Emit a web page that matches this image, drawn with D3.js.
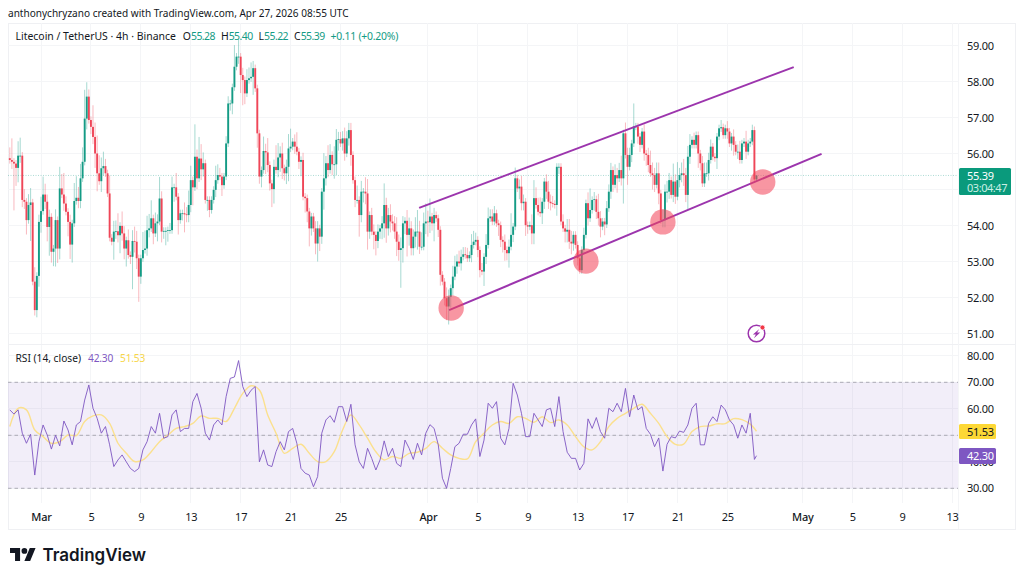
<!DOCTYPE html>
<html><head><meta charset="utf-8">
<script src="https://cdn.jsdelivr.net/npm/d3@7/dist/d3.min.js"></script>
<style>
html,body{margin:0;padding:0;background:#fff;overflow:hidden}
svg{display:block}
text{font-family:"Noto Sans",Roboto,sans-serif;fill:#131722}
</style></head><body><svg id="c" width="1024" height="581"></svg>
<script>
// ---------- data ----------
const closes = [
55.82,55.77,55.72,55.60,55.94,55.94,54.71,54.66,54.15,54.57,54.64,52.44,51.65,52.60,54.10,54.40,54.86,54.66,53.96,54.24,
53.27,53.36,54.15,53.36,55.03,54.86,54.61,54.38,54.10,53.47,54.06,54.68,54.77,54.68,55.31,55.77,56.97,57.58,56.93,56.74,
56.46,56.00,55.45,55.23,55.59,55.65,55.45,54.89,53.66,53.55,53.83,53.84,53.73,53.99,53.78,53.36,53.59,53.18,53.13,53.57,
53.55,53.09,52.58,53.09,53.32,53.36,53.87,53.92,54.20,53.78,54.06,54.11,54.75,53.83,53.85,53.85,53.87,53.87,55.06,55.06,
54.80,54.15,54.34,54.34,54.31,54.29,54.57,55.26,55.06,55.91,55.31,55.86,55.56,55.73,54.71,54.71,54.43,54.71,54.99,55.26,
55.40,55.36,55.12,55.36,56.28,57.39,57.39,57.84,58.41,58.69,58.69,58.18,58.04,57.67,58.04,58.09,58.13,58.37,57.81,56.56,55.36,
55.54,56.07,56.03,55.68,55.17,55.01,55.63,55.54,55.89,56.00,55.59,55.45,55.63,56.14,56.19,56.33,56.19,56.05,55.77,55.82,
54.80,54.76,54.39,53.92,54.25,53.92,53.50,53.92,53.69,54.94,55.31,55.73,55.54,55.96,55.70,55.70,56.38,56.40,56.28,56.42,
56.00,56.42,56.65,55.96,55.26,54.71,54.71,54.29,54.94,54.94,54.89,53.83,54.29,53.83,53.74,53.57,53.83,53.92,54.06,54.57,
53.92,54.29,54.11,54.06,53.83,53.55,53.32,53.37,54.06,54.13,53.74,53.92,53.37,53.69,53.83,53.83,53.41,53.41,54.06,54.11,
54.09,54.25,54.06,54.29,54.20,53.88,
52.63,52.44,51.98,51.75,52.02,52.26,52.58,52.86,53.00,52.95,53.13,53.20,53.18,53.09,53.18,53.46,53.55,53.60,53.32,52.76,
52.72,53.13,53.46,54.20,54.25,54.11,54.34,54.06,54.01,53.60,53.55,53.32,53.23,53.41,53.74,53.97,55.31,55.03,55.08,54.62,
54.66,54.01,53.97,54.01,53.78,54.76,54.57,54.38,54.34,54.66,55.22,54.94,54.66,54.62,54.60,54.57,55.63,55.63,54.11,53.92,
53.83,53.88,53.55,53.50,53.74,53.46,53.09,52.76,53.32,53.74,54.62,54.20,54.43,54.71,54.73,54.38,54.20,53.97,
54.11,54.03,54.48,54.94,55.54,55.13,55.40,55.31,55.54,55.31,56.56,55.96,55.63,55.96,56.28,56.75,56.75,56.47,56.24,56.61,
56.00,55.96,55.68,55.45,55.40,55.13,55.45,54.89,54.15,54.15,54.94,54.94,55.26,54.85,55.22,54.80,55.26,55.40,55.45,55.40,
54.85,55.91,56.24,56.38,56.24,56.51,56.00,55.73,55.17,55.45,55.45,55.82,56.19,55.91,55.87,56.47,56.70,56.73,56.51,56.70,
56.61,56.28,56.47,56.24,56.05,56.05,55.82,56.28,56.33,56.05,56.28,56.33,56.65,55.28,55.39];
const upperWick = [
.3,.6,.1,.1,.4,.5,.1,.3,.1,.3,.4,.1,.4,.1,.2,.4,.5,.3,.2,.2,.1,.1,.3,.1,.6,.4,.6,.2,.1,.2,.1,.5,.6,.3,.4,.4,.8,.4,.2,.1,.6,.4,.5,.5,.3,.4,.2,.1,.5,.1,.3,.3,.5,.1,.4,.2,.1,.3,.1,.3,
.4,.3,.1,.1,.5,.5,.4,.4,.5,.1,.3,.2,.6,.2,.1,.1,.1,.2,.3,.1,.4,.1,.1,.1,.3,.2,.4,.4,.1,.9,.2,.6,.4,.3,.1,.1,.1,.1,.1,.4,.3,.2,.1,.1,.2,.2,.1,.1,.6,.1,.5,.1,.2,.1,.3,.3,.4,.2,.1,.1,.1,
.1,.4,.2,.4,.1,.1,.2,.6,.4,.2,.3,.1,.2,.4,.5,.1,.2,.4,.1,.1,.2,.1,.1,.1,.1,.1,.2,.2,.1,.1,.7,.2,.5,.3,.1,.5,.3,.2,.2,.2,.3,.2,.2,.2,.1,.1,.4,.1,.3,.1,.4,.4,.1,.2,.2,.1,.2,.1,.2,.6,.2,.2,.3,.2,.2,.4,.2,.3,.2,.1,.3,.3,.2,.2,.4,.6,.3,.4,.3,.5,.3,.5,.1,.2,.1,.1,
.1,.1,.1,.3,.2,.1,.3,.3,.2,.3,.2,.2,.2,.2,.1,.3,.3,.2,.1,.1,.2,.1,.3,.3,.2,.2,.2,.1,.1,.1,.1,.2,.1,.2,.6,.1,.3,.1,.2,.3,.2,.1,.1,.1,.3,.5,.3,.2,.4,.1,.1,.2,.3,.2,.2,.1,.1,.1,.1,.2,.1,.3,.3,.3,.1,.1,.1,.1,.1,.2,.1,.3,.6,.1,.2,.1,.5,.2,
.1,.1,.2,.2,.2,.1,.3,.2,.2,.4,.1,.3,.2,.2,.1,.64,.1,.1,.1,.1,.2,.1,.2,.4,.3,.2,.3,.3,.1,.3,.2,.3,.2,.1,.5,.2,.5,.2,.3,.4,.2,.3,.3,.1,.2,.1,.1,.1,.2,.3,.3,.2,.2,.1,.1,.1,.1,.2,.1,.1,.2,.1,.1,.2,.1,.2,.3,.1,.1,.3,.1,.1,.15,.1,.01];
const lowerWick = [
.1,.2,1.3,.5,.4,.2,.2,.2,.4,.1,1.0,.1,.15,.2,.3,.3,.1,.2,.4,.8,.3,.4,.5,.4,.3,.1,.2,.1,.4,.4,.5,.1,.1,.2,.2,.1,.1,.3,.1,.2,.2,.4,.5,.1,.3,.2,.1,.1,.1,.1,.5,.2,.2,.5,.2,.3,.5,.1,.2,.9,
.3,.3,.7,.2,.1,.1,.2,.2,.1,.3,.1,.5,.1,.3,.2,.4,.3,.1,.1,.4,.1,.4,.1,.2,.5,.2,.2,.2,.5,.1,.3,.1,.3,.2,.1,.3,.2,.1,.1,.2,.1,.1,.3,.1,.1,.1,.2,.3,.1,.1,.2,.5,.7,.3,.1,.1,.1,.5,.1,.4,.2,
.3,.1,.6,.2,.2,.5,.4,.1,.2,.4,.3,.2,.3,.4,.1,.1,.2,.1,.2,.4,.1,.4,.3,.5,.2,.1,.3,.5,.4,.2,.5,.2,.2,.1,.3,.4,.3,.3,.1,.2,.2,.1,.2,.3,.1,.2,.1,.6,.2,.3,.3,.5,.2,.1,.4,.4,.2,.2,.3,.4,.4,.2,.3,.2,.2,.4,.3,1.05,.4,.3,.6,.3,.2,.2,.3,.5,.2,.1,.1,.3,.4,.3,.2,.5,.1,.2,
.3,.1,.2,.38,.5,.3,.2,.1,.2,.1,.2,.1,.1,.1,.1,.2,.1,.1,.2,.2,.1,.4,.2,.1,.1,.1,.1,.1,.3,.2,.3,.3,.2,.4,.1,.2,.1,.1,.3,.2,.2,.3,.2,.1,.3,.3,.1,.1,.1,.3,.2,.2,.2,.2,.1,.1,.3,.2,.1,.1,.3,.3,.2,.3,.2,.1,.2,.1,.1,.1,.1,.2,.1,.1,.3,.2,.2,.3,
.1,.3,.1,.1,.2,.2,.1,.4,.1,.2,.7,.1,.5,.1,.2,.1,.1,.2,.2,.1,.2,.3,.2,.1,.4,.2,.1,.3,.1,.2,.2,.3,.2,.1,.2,.2,.1,.2,.2,.3,.2,.4,.2,.1,.1,.1,.4,.2,.1,.1,.1,.2,.1,.1,.1,.3,.1,.1,.1,.1,.2,.1,.2,.3,.1,.2,.1,.1,.1,.2,.1,.1,.1,.05,.06];
// RSI read every second candle, its average every fourth candle
const rsi = [
59.6,58,59.6,50.8,47,50.4,35,47.6,53.9,50.1,44.8,50,46,55.4,52,46.4,53.9,55.2,63.3,69,
60.2,56.4,50.8,53.3,46.4,38.2,40.7,42.6,40,37.5,36.3,37.5,44.5,47.6,53.3,50.8,58.3,48.9,49.5,57.7,
59.6,51.4,52.6,52.6,62.7,65.8,60.2,50.8,48.2,53.9,55.8,53.9,64.6,71.5,72,78.2,68.4,64.6,67,68.4,
40,44.5,38.8,38.2,43.8,47.6,44.5,51.4,52.6,47,37.5,35.7,35,30.6,34.4,50.8,55.8,57.4,54.9,60.8,
60.8,55.2,61.7,46.4,40,37.5,45.1,41.3,36.9,40.7,47.9,42,45.1,39.4,38.2,48.2,45.1,40.9,47,42.6,
50.8,54,52.6,46.4,33.8,30,37.5,45.7,47,50.4,50.4,53.9,56.2,42,48.2,62.1,60.2,62.7,48.9,46.4,
52.6,69.6,65.2,58.3,49.5,49.5,58.3,55.8,53.3,59.6,60.2,53.3,64.6,51.4,43.6,41.3,41.3,36.9,39.4,56.2,
52.6,56.7,51.4,48.9,60.2,58.9,62.1,58.9,67.7,57,65.2,59.6,60.8,52.6,50.4,45.7,49,36.5,46.6,49.5,49,51.6,
51.1,53.9,60.2,62.1,46.4,46.4,54.5,57,55.2,61.4,59.6,55.8,53.9,48.9,53.9,50.8,58.3,40.9,42.3];
const rsiMA = [
53.3,60.2,59.6,52,49.5,47,47.6,50.1,49.9,55.2,57.3,57.7,54.5,47,43.2,40.1,40.7,43.8,47.6,50.1,
52.6,53.3,54.5,57.3,56.4,56.4,55.2,60.2,65.8,68.7,67.1,57.7,50.8,43.2,45.1,46.6,43.2,40.1,40.1,43.8,
52,57.7,53.9,48.9,43.8,40.7,42,41.3,43.2,43.6,45.1,47.6,45.1,42.6,41.3,41.1,47.6,50.8,53.9,55.2,
54.5,57,56.4,54.9,57,54.8,55.8,53.9,49.5,45.7,44.5,47.6,53.3,56.4,58.3,60.2,61.7,58.3,54.5,49.5,46.6,
46.7,51.4,53.3,53.5,54.3,54.4,56.3,55.9,54.2,51.53];
// trend channel and touch points: candle index, price
const upperChannel = [[196.8,54.49],[376.9,58.40]];
const lowerChannel = [[211.2,51.65],[390.3,55.99]];
const touches = [[212.2,51.71],[277,53.01],[314,54.10],[362,55.21]];
const priceTicks = [51,52,53,54,55,56,57,58,59];
const priceLabelsHidden = [55];   // covered by the last-price tag in the reference
const rsiTicks = [30,40,50,60,70,80];
const rsiLabelsHidden = [50];     // covered by the average tag in the reference
const rsiLevels = [30,50,70];
const dateTicks = ["2026-03-01","2026-03-05","2026-03-09","2026-03-13","2026-03-17","2026-03-21","2026-03-25",
 "2026-04-01","2026-04-05","2026-04-09","2026-04-13","2026-04-17","2026-04-21","2026-04-25",
 "2026-05-01","2026-05-05","2026-05-09","2026-05-13"].map(s=>new Date(s+"T00:00:00Z"));
const lastCandle = new Date("2026-04-27T08:00:00Z");
const headerText = "anthonychryzano created with TradingView.com, Apr 27, 2026 08:55 UTC";
const legendTitle = "Litecoin / TetherUS · 4h · Binance";
const legendOHLC = [["O","55.28"],["H","55.40"],["L","55.22"],["C","55.39"]];
const legendChange = "+0.11 (+0.20%)";

// ---------- scales ----------
const GREEN="#149b85", RED="#ef4658", PURPLE="#7e57c2", YELLOW="#fbe08e", LINE="#9c35ad";
const leftX=8, axisX=958, rightX=1015, topY=23, paneDiv=344, timeTop=503, bottomY=529;
const N=closes.length;
const dateOf=i=>new Date(+lastCandle-(N-1-i)*4*3600e3);
const x=d3.scaleUtc().domain([dateTicks[0],dateTicks[dateTicks.length-1]]).range([41,952]);
const cx=i=>x(dateOf(i));
const yP=d3.scaleLinear().domain([51,59]).range([333.5,45.5]);
const yR=d3.scaleLinear().domain([30,80]).range([488.3,355.8]);
const svg=d3.select("#c");

// header & frame
svg.append("text").attr("x",8).attr("y",16.5).attr("font-size",10.05).text(headerText);
svg.append("rect").attr("x",leftX+.5).attr("y",topY+.5).attr("width",rightX-leftX).attr("height",bottomY-topY)
  .attr("fill","none").attr("stroke","#eff0f3");
// grid
const grid=svg.append("g").attr("stroke","#f4f5f7").attr("shape-rendering","crispEdges");
grid.selectAll("line.v").data(dateTicks).join("line").attr("class","v").attr("x1",d=>x(d)).attr("x2",d=>x(d)).attr("y1",topY).attr("y2",timeTop);
grid.selectAll("line.p").data(priceTicks).join("line").attr("class","p").attr("x1",leftX).attr("x2",axisX).attr("y1",d=>yP(d)).attr("y2",d=>yP(d));
grid.selectAll("line.r").data(rsiTicks).join("line").attr("class","r").attr("x1",leftX).attr("x2",axisX).attr("y1",d=>yR(d)).attr("y2",d=>yR(d));
svg.append("line").attr("x1",leftX).attr("x2",rightX).attr("y1",paneDiv+.5).attr("y2",paneDiv+.5).attr("stroke","#eff0f3");
svg.append("line").attr("x1",axisX+.5).attr("x2",axisX+.5).attr("y1",topY).attr("y2",bottomY).attr("stroke","#f4f5f7");

// RSI band
svg.append("rect").attr("x",leftX).attr("width",axisX-leftX).attr("y",yR(70)).attr("height",yR(30)-yR(70)).attr("fill","#7e57c2").attr("fill-opacity",.1);
svg.append("g").selectAll("line").data(rsiLevels).join("line").attr("x1",leftX).attr("x2",axisX)
  .attr("y1",d=>yR(d)).attr("y2",d=>yR(d)).attr("stroke","#9a9aa4").attr("stroke-dasharray","3.5 3").attr("stroke-width",.8);

// last price line
svg.append("line").attr("x1",leftX).attr("x2",axisX).attr("y1",yP(closes[N-1])).attr("y2",yP(closes[N-1]))
  .attr("stroke","#149b85").attr("stroke-opacity",.5).attr("stroke-width",.7).attr("stroke-dasharray","1 1.5");

// candles
const candles=closes.map((c,i)=>{const o=i?closes[i-1]:c+.05;return {i,o,c,h:Math.max(o,c)+upperWick[i],l:Math.min(o,c)-lowerWick[i]};});
const cg=svg.append("g").style("filter","blur(0.3px)");
cg.selectAll("line").data(candles).join("line").attr("x1",d=>cx(d.i)).attr("x2",d=>cx(d.i))
  .attr("y1",d=>yP(d.h)).attr("y2",d=>yP(d.l)).attr("stroke",d=>d.c>=d.o?GREEN:RED).attr("stroke-opacity",.38).attr("stroke-width",1);
cg.selectAll("rect").data(candles).join("rect").attr("x",d=>cx(d.i)-.95).attr("width",1.9)
  .attr("y",d=>yP(Math.max(d.o,d.c))).attr("height",d=>Math.max(.8,yP(Math.min(d.o,d.c))-yP(Math.max(d.o,d.c))))
  .attr("fill",d=>d.c>=d.o?GREEN:RED);

// channel lines + touch circles
const chLine=d3.line().x(d=>cx(d[0])).y(d=>yP(d[1]));
svg.append("path").attr("d",chLine(upperChannel)).attr("fill","none").attr("stroke",LINE).attr("stroke-width",2);
svg.append("path").attr("d",chLine(lowerChannel)).attr("fill","none").attr("stroke",LINE).attr("stroke-width",2);
svg.append("g").selectAll("circle").data(touches).join("circle").attr("cx",d=>cx(d[0])).attr("cy",d=>yP(d[1])).attr("r",12.7)
  .attr("fill","#f2445a").attr("fill-opacity",.56);

// spark icon
const ic=svg.append("g").attr("transform",`translate(${cx(359)},${yP(51)})`);
ic.append("circle").attr("r",8.3).attr("fill","#fff").attr("stroke",LINE).attr("stroke-width",1.5);
ic.append("path").attr("d","M2.8,-4.5L-3.6,1H-0.6L-2.6,4.8L3.8,-0.9H0.6Z").attr("fill",LINE);
ic.append("circle").attr("cx",6).attr("cy",-6).attr("r",2.4).attr("fill","#f23645").attr("stroke","#fff").attr("stroke-width",.6);

// RSI lines
const rsiLine=d3.line().x((d,j)=>cx(Math.min(j*2,N-1))).y(d=>yR(d));
const maLine=d3.line().x((d,j)=>cx(Math.min(j*4,N-1))).y(d=>yR(d)).curve(d3.curveCatmullRom);
svg.append("path").attr("d",maLine(rsiMA)).attr("fill","none").attr("stroke",YELLOW).attr("stroke-width",1.4);
svg.append("path").attr("d",rsiLine(rsi)).attr("fill","none").attr("stroke",PURPLE).attr("stroke-width",1).attr("stroke-linejoin","round").attr("stroke-opacity",.9);

// axes
function styleAxis(g){g.select(".domain").remove();g.selectAll(".tick line").remove();g.selectAll("text").attr("font-size",11).attr("fill","#131722").attr("font-family",'"Noto Sans",Roboto,sans-serif').attr("letter-spacing",-.25);}
svg.append("g").attr("transform",`translate(967,0)`).call(d3.axisRight(yP).tickValues(priceTicks).tickFormat(d=>priceLabelsHidden.includes(d)?"":d3.format(".2f")(d)).tickSize(0).tickPadding(0)).call(styleAxis);
svg.append("g").attr("transform",`translate(967,0)`).call(d3.axisRight(yR).tickValues(rsiTicks).tickFormat(d=>rsiLabelsHidden.includes(d)?"":d3.format(".2f")(d)).tickSize(0).tickPadding(0)).call(styleAxis);
const fmtDate=d=>d.getUTCDate()===1?d3.utcFormat("%b")(d):d3.utcFormat("%-d")(d);
svg.append("g").attr("transform",`translate(0,513.5)`).call(d3.axisBottom(x).tickValues(dateTicks).tickFormat(fmtDate).tickSize(0).tickPadding(0)).call(styleAxis)
  .selectAll("text").attr("font-weight",d=>d.getUTCDate()===1?500:400);

// price tags
function tag(y0,h,w,fill){svg.append("rect").attr("x",axisX+1).attr("y",y0).attr("width",w).attr("height",h).attr("rx",1.5).attr("fill",fill);}
tag(168,27,52,"#0a9a7c");
svg.append("text").attr("x",967).attr("y",179.5).attr("font-size",11).attr("letter-spacing",-.25).style("fill","#fff").text(closes[N-1].toFixed(2));
svg.append("text").attr("x",967).attr("y",191.5).attr("font-size",11).attr("letter-spacing",-.45).style("fill","#c9efe4").text("03:04:47");
tag(424,15,37,"#fdd835");
svg.append("text").attr("x",967).attr("y",435.5).attr("font-size",11).attr("letter-spacing",-.25).text(rsiMA[rsiMA.length-1].toFixed(2));
tag(448,16,37,PURPLE);
svg.append("text").attr("x",967).attr("y",460).attr("font-size",11).attr("letter-spacing",-.25).style("fill","#fff").text(rsi[rsi.length-1].toFixed(2));

// legends
const lg=svg.append("text").attr("x",15.5).attr("y",40).attr("font-size",10.45);
lg.append("tspan").text(legendTitle);
legendOHLC.forEach((d,k)=>{lg.append("tspan").attr("dx",k?6:7).text(d[0]);lg.append("tspan").style("fill","#149b85").attr("letter-spacing",-.55).text(d[1]);});
lg.append("tspan").attr("dx",6).style("fill","#149b85").attr("letter-spacing",-.25).text(legendChange);
const rl=svg.append("text").attr("x",15.5).attr("y",361.5).attr("font-size",10.2);
rl.append("tspan").text("RSI (14, close)");
rl.append("tspan").attr("dx",7).attr("letter-spacing",-.2).style("fill",PURPLE).text(rsi[rsi.length-1].toFixed(2));
rl.append("tspan").attr("dx",7).attr("letter-spacing",-.2).style("fill","#f7d64a").text(rsiMA[rsiMA.length-1].toFixed(2));

// logo
const lo=svg.append("g").attr("transform","translate(10,545.2) scale(0.72)");
lo.append("path").attr("d","M14 22H7V11H0V4h14v18zM28 22h-8l7.5-18h8L28 22z").attr("fill","#131722");
lo.append("circle").attr("cx",20).attr("cy",8).attr("r",4).attr("fill","#131722");
svg.append("text").attr("x",42.5).attr("y",561).attr("font-size",17).attr("font-weight",600).style("font-family","Inter,sans-serif").text("TradingView");
</script></body></html>
